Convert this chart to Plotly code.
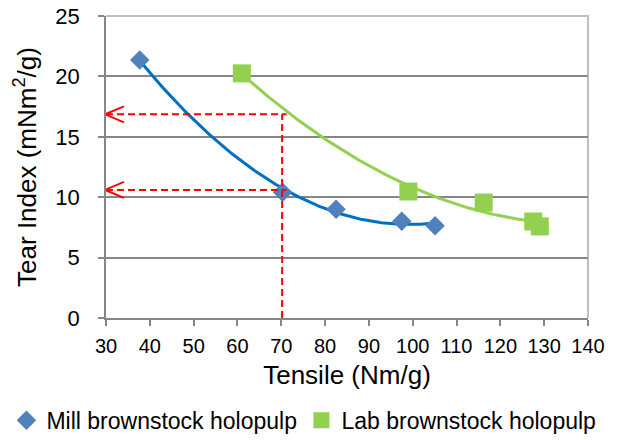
import numpy as np
import plotly.graph_objects as go

# Tear index vs tensile for the two holopulps
mill_tensile = [37.7, 70.3, 82.5, 97.5, 105.1]
mill_tear = [21.35, 10.4, 9.0, 8.0, 7.64]

lab_tensile = [61.0, 99.0, 116.2, 127.5, 129.0]
lab_tear = [20.25, 10.47, 9.56, 7.99, 7.58]

# Reading guides: tear index of each pulp at a common tensile level
ref_tensile = 70.2
ref_tear = [16.86, 10.6]

x_ticks = list(range(30, 141, 10))
y_ticks = list(range(0, 26, 5))

MILL_MARK = "#4F81BD"
MILL_LINE = "#0070C0"
LAB = "#92D050"
GUIDE = "#FF0000"
GRID = "#868686"
FONT = "Liberation Sans, Arial, sans-serif"


def trend(x, y, n=200):
    """Second-order polynomial trendline over the range of the data."""
    c = np.polyfit(x, y, 2)
    xs = np.linspace(min(x), max(x), n)
    return xs, np.polyval(c, xs)


fig = go.Figure()

mx, my = trend(mill_tensile, mill_tear)
lx, ly = trend(lab_tensile, lab_tear)

fig.add_trace(go.Scatter(x=mx, y=my, mode="lines", line=dict(color=MILL_LINE, width=3),
                         showlegend=False, hoverinfo="skip"))
fig.add_trace(go.Scatter(x=lx, y=ly, mode="lines", line=dict(color=LAB, width=3),
                         showlegend=False, hoverinfo="skip"))

# Dashed guide lines: vertical up from the tensile axis, horizontal to the tear axis
guide_dash = "7px,4px"
fig.add_shape(type="line", xref="x", yref="y", x0=ref_tensile, x1=ref_tensile,
              y0=0, y1=max(ref_tear), line=dict(color=GUIDE, width=2, dash=guide_dash), layer="above")
for t in ref_tear:
    fig.add_shape(type="line", xref="x", yref="y", x0=x_ticks[0], x1=ref_tensile + 1,
                  y0=t, y1=t, line=dict(color=GUIDE, width=2, dash=guide_dash), layer="above")
    # open arrow head pointing at the tear axis
    fig.add_shape(type="path", xref="x", yref="y", xsizemode="pixel", ysizemode="pixel",
                  xanchor=x_ticks[0], yanchor=t, path="M18,8 L-1,0 L18,-8",
                  line=dict(color=GUIDE, width=2), layer="above")

fig.add_trace(go.Scatter(x=mill_tensile, y=mill_tear, mode="markers",
                         name="Mill brownstock holopulp",
                         marker=dict(symbol="diamond", size=15, color=MILL_MARK)))
fig.add_trace(go.Scatter(x=lab_tensile, y=lab_tear, mode="markers",
                         name="Lab brownstock holopulp",
                         marker=dict(symbol="square", size=18, color=LAB)))

fig.update_layout(
    width=621, height=440,
    margin=dict(l=106, r=33, t=16, b=122, autoexpand=False),
    paper_bgcolor="white", plot_bgcolor="white",
    font=dict(family=FONT, color="black", size=22),
    showlegend=True,
    legend=dict(orientation="h", x=-0.2066, xanchor="left", y=-0.339, yanchor="middle",
                font=dict(size=23), itemwidth=30, entrywidth=250, traceorder="normal",
                bgcolor="rgba(0,0,0,0)"),
)

fig.update_xaxes(
    range=[30, 140], tickvals=x_ticks, ticktext=[str(v) for v in x_ticks],
    showgrid=False, zeroline=False,
    showline=True, linecolor=GRID, linewidth=1.5, mirror=False,
    ticks="outside", ticklen=6, tickcolor=GRID, tickwidth=1.5,
    tickfont=dict(size=20), ticklabelstandoff=3,
    title=dict(text="Tensile (Nm/g)", font=dict(size=26), standoff=10),
)
fig.update_yaxes(
    range=[0, 25], tickvals=y_ticks, ticktext=[str(v) for v in y_ticks],
    showgrid=True, gridcolor=GRID, gridwidth=1.5, zeroline=False,
    showline=True, linecolor=GRID, linewidth=1.5, mirror=False,
    ticks="outside", ticklen=6, tickcolor=GRID, tickwidth=1.5,
    tickfont=dict(size=22), ticklabelstandoff=14,
    title=dict(text="Tear Index (mNm<sup>2</sup>/g)", font=dict(size=26), standoff=11),
)

# light frame on the top and right of the plot area
fig.add_shape(type="path", xref="paper", yref="paper", path="M0,1 L1,1 L1,0",
              line=dict(color="#BFBFBF", width=2), layer="below")

fig.write_html("out.html")
